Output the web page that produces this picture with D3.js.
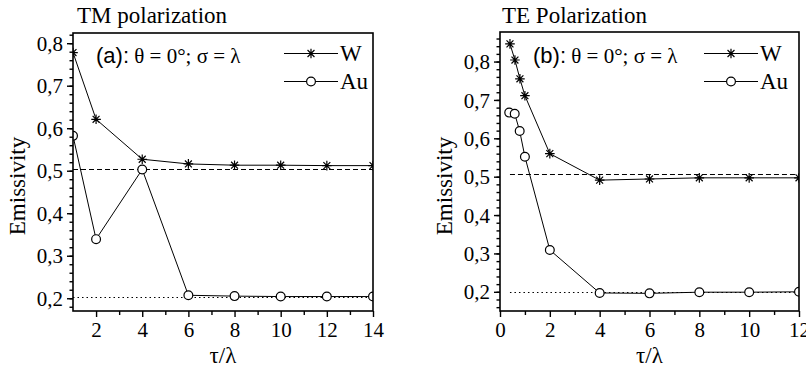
<!DOCTYPE html>
<html>
<head>
<meta charset="utf-8">
<script src="https://cdn.jsdelivr.net/npm/d3@7"></script>
<style>
  body { margin: 0; background: #fff; }
  svg { display: block; }
  text { font-family: "Liberation Serif", "Times New Roman", serif; fill: #000; }
</style>
</head>
<body>
<svg id="chart" width="806" height="369"></svg>
<script>
// TM panel (a)
const tmX = [1, 2, 4, 6, 8, 10, 12, 14];
const tmW = [0.778, 0.621, 0.527, 0.516, 0.513, 0.513, 0.512, 0.512];
const tmAu = [0.582, 0.339, 0.503, 0.207, 0.205, 0.204, 0.204, 0.204];
const tmDashed = 0.504;
const tmDotted = 0.203;

// TE panel (b)
const teWX = [0.4, 0.6, 0.8, 1, 2, 4, 6, 8, 10, 12];
const teW = [0.846, 0.804, 0.755, 0.711, 0.560, 0.491, 0.494, 0.497, 0.497, 0.497];
const teAuX = [0.37, 0.59, 0.79, 1, 2, 4, 6, 8, 10, 12];
const teAu = [0.667, 0.664, 0.619, 0.552, 0.309, 0.197, 0.196, 0.199, 0.199, 0.2];
const teDashed = 0.507;
const teDotted = 0.2;

const yTicks = [0.2, 0.3, 0.4, 0.5, 0.6, 0.7, 0.8];
const legendLabels = ["W", "Au"];

const svg = d3.select("#chart");
const fmt = d => d3.format(".1f")(d).replace(".", ",");

function star(g, x, y) {
  const r = 4.8, d = r * 0.72;
  const p = `M${x - r},${y}L${x + r},${y}M${x},${y - r}L${x},${y + r}` +
    `M${x - d},${y - d}L${x + d},${y + d}M${x - d},${y + d}L${x + d},${y - d}`;
  g.append("path").attr("d", p).attr("stroke", "#000").attr("stroke-width", 1.2);
}

function circle(g, x, y) {
  g.append("circle").attr("cx", x).attr("cy", y).attr("r", 4.4)
    .attr("fill", "#fff").attr("stroke", "#000").attr("stroke-width", 1.2);
}

function drawPanel(cfg) {
  const x = d3.scaleLinear().domain(cfg.xDomain).range([cfg.left, cfg.right]);
  const y = d3.scaleLinear().domain(cfg.yDomain).range([cfg.bottom, cfg.top]);
  const g = svg.append("g");

  g.append("clipPath").attr("id", cfg.id)
    .append("rect").attr("x", cfg.left).attr("y", cfg.top)
    .attr("width", cfg.right - cfg.left).attr("height", cfg.bottom - cfg.top);

  const plot = g.append("g").attr("clip-path", `url(#${cfg.id})`);

  // reference lines (snapped to pixel so they stay dark)
  const yd = Math.round(y(cfg.dashed)) + 0.5;
  const yt = Math.round(y(cfg.dotted)) + 0.5;
  plot.append("line")
    .attr("x1", x(cfg.refStart)).attr("x2", cfg.right)
    .attr("y1", yd).attr("y2", yd)
    .attr("stroke", "#000").attr("stroke-width", 1).attr("stroke-dasharray", "5,3");
  plot.append("line")
    .attr("x1", x(cfg.refStart)).attr("x2", cfg.right)
    .attr("y1", yt).attr("y2", yt)
    .attr("stroke", "#000").attr("stroke-width", 1).attr("stroke-dasharray", "1.5,3");

  const line = d3.line().x(d => x(d[0])).y(d => y(d[1]));
  const wPts = cfg.wX.map((v, i) => [v, cfg.w[i]]);
  const auPts = cfg.auX.map((v, i) => [v, cfg.au[i]]);

  plot.append("path").attr("d", line(auPts)).attr("fill", "none")
    .attr("stroke", "#000").attr("stroke-width", 1);
  plot.append("path").attr("d", line(wPts)).attr("fill", "none")
    .attr("stroke", "#000").attr("stroke-width", 1);
  auPts.forEach(d => circle(plot, x(d[0]), y(d[1])));
  wPts.forEach(d => star(plot, x(d[0]), y(d[1])));

  // axes
  const xAxis = d3.axisBottom(x).tickValues(cfg.xTicks).tickSize(6).tickFormat(d3.format("d"));
  const xMinor = d3.axisBottom(x).tickValues(cfg.xMinor).tickSize(4).tickFormat("");
  const yAxis = d3.axisLeft(y).tickValues(yTicks).tickSize(6).tickFormat(fmt);
  const yMinor = d3.axisLeft(y).tickValues(cfg.yMinor).tickSize(3.5).tickFormat("");

  [xMinor, xAxis].forEach(a => {
    const ax = g.append("g").attr("transform", `translate(0,${cfg.bottom})`).call(a);
    ax.select(".domain").remove();
    ax.selectAll("line").attr("stroke", "#000").attr("stroke-width", 1.4);
    ax.selectAll("text").attr("font-family", "Liberation Serif").attr("font-size", 21)
      .attr("dy", null).attr("y", 26);
  });
  [yMinor, yAxis].forEach(a => {
    const ax = g.append("g").attr("transform", `translate(${cfg.left},0)`).call(a);
    ax.select(".domain").remove();
    ax.selectAll("line").attr("stroke", "#000").attr("stroke-width", 1.4);
    ax.selectAll("text").attr("font-family", "Liberation Serif").attr("font-size", 21)
      .attr("x", -10).attr("dy", "0.34em");
  });

  // frame
  g.append("rect").attr("x", cfg.left).attr("y", cfg.top)
    .attr("width", cfg.right - cfg.left).attr("height", cfg.bottom - cfg.top)
    .attr("fill", "none").attr("stroke", "#000").attr("stroke-width", 1.6);

  // titles and labels
  g.append("text").attr("x", cfg.titleX).attr("y", 23).attr("font-size", 23)
    .text(cfg.title);
  g.append("text")
    .attr("transform", `translate(${cfg.left - 48},186) rotate(-90)`)
    .attr("text-anchor", "middle").attr("font-size", 23).text("Emissivity");
  g.append("text").attr("x", (cfg.left + cfg.right) / 2).attr("y", 363)
    .attr("text-anchor", "middle").attr("font-size", 23).text("τ/λ");

  // annotation
  const ann = g.append("text").attr("x", cfg.annX).attr("y", 63).attr("font-size", 21);
  ann.append("tspan").attr("font-family", "Liberation Sans").attr("font-size", 22).text(cfg.tag);
  ann.append("tspan").text(" θ = 0°; σ = λ");

  // legend
  const lg = g.append("g");
  [53, 81].forEach((ly, i) => {
    lg.append("line").attr("x1", cfg.legX).attr("x2", cfg.legX + 54)
      .attr("y1", ly + 0.5).attr("y2", ly + 0.5).attr("stroke", "#000").attr("stroke-width", 1);
    if (i === 0) star(lg, cfg.legX + 27, ly + 0.5); else circle(lg, cfg.legX + 27, ly + 0.5);
    lg.append("text").attr("x", cfg.legX + 56).attr("y", ly + 8).attr("font-size", 23)
      .text(legendLabels[i]);
  });
}

drawPanel({
  id: "clipA", left: 73, right: 373, top: 33, bottom: 311,
  xDomain: [1, 14], yDomain: [0.17, 0.824],
  xTicks: [2, 4, 6, 8, 10, 12, 14], xMinor: [3, 5, 7, 9, 11, 13],
  yMinor: d3.range(0.18, 0.825, 0.02),
  wX: tmX, w: tmW, auX: tmX, au: tmAu,
  dashed: tmDashed, dotted: tmDotted, refStart: 1,
  title: "TM polarization", titleX: 77, tag: "(a):", annX: 96, legX: 284
});

drawPanel({
  id: "clipB", left: 500, right: 799, top: 32, bottom: 311,
  xDomain: [0, 12], yDomain: [0.15, 0.877],
  xTicks: [0, 2, 4, 6, 8, 10, 12], xMinor: [1, 3, 5, 7, 9, 11],
  yMinor: d3.range(0.16, 0.877, 0.02),
  wX: teWX, w: teW, auX: teAuX, au: teAu,
  dashed: teDashed, dotted: teDotted, refStart: 0.4,
  title: "TE Polarization", titleX: 502, tag: "(b):", annX: 533, legX: 704
});
</script>
</body>
</html>
